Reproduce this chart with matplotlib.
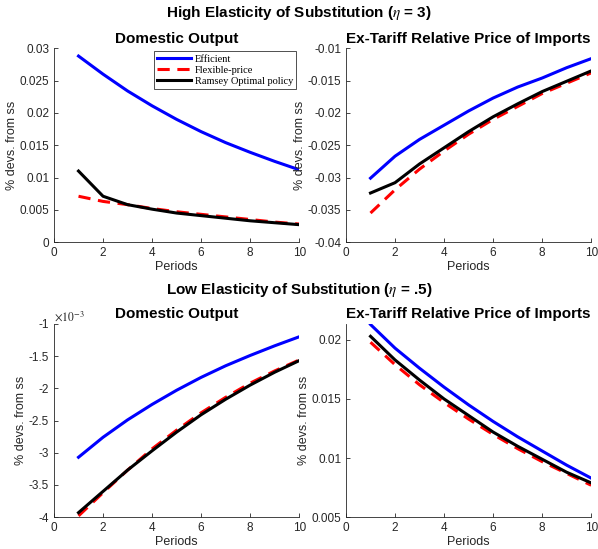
import matplotlib
matplotlib.use("Agg")
import matplotlib.pyplot as plt
from matplotlib.ticker import FuncFormatter, MultipleLocator

# ---------------------------------------------------------------------------
# Data
# ---------------------------------------------------------------------------
periods = list(range(1, 11))

# High elasticity (eta = 3) -- domestic output
hi_out_eff = [0.0288, 0.0260, 0.0234, 0.0211, 0.0190, 0.0171, 0.0154, 0.0139, 0.0125, 0.0112]
hi_out_flex = [0.0071, 0.0063, 0.0058, 0.0052, 0.0047, 0.0043, 0.0039, 0.0035, 0.0031, 0.0028]
hi_out_ram = [0.0110, 0.0071, 0.0058, 0.0051, 0.0045, 0.0041, 0.0037, 0.0033, 0.0030, 0.0027]

# High elasticity (eta = 3) -- ex-tariff relative price of imports
hi_px_eff = [-0.0301, -0.0267, -0.0241, -0.0219, -0.0197, -0.0177, -0.0160, -0.0146, -0.0130, -0.0116]
hi_px_flex = [-0.0355, -0.0319, -0.0287, -0.0259, -0.0233, -0.0210, -0.0190, -0.0170, -0.0154, -0.0138]
hi_px_ram = [-0.0324, -0.0308, -0.0279, -0.0254, -0.0229, -0.0206, -0.0186, -0.0167, -0.0151, -0.0135]

# Low elasticity (eta = .5) -- domestic output, in units of 1e-3
lo_out_eff = [-3.07, -2.76, -2.49, -2.25, -2.03, -1.83, -1.65, -1.49, -1.34, -1.20]
lo_out_flex = [-3.98, -3.62, -3.27, -2.94, -2.65, -2.38, -2.14, -1.92, -1.73, -1.56]
lo_out_ram = [-3.93, -3.60, -3.27, -2.97, -2.68, -2.41, -2.17, -1.95, -1.75, -1.57]

# Low elasticity (eta = .5) -- ex-tariff relative price of imports
lo_px_eff = [0.0213, 0.0193, 0.0176, 0.0160, 0.0145, 0.0131, 0.0118, 0.0106, 0.0094, 0.0083]
lo_px_flex = [0.0198, 0.0179, 0.0162, 0.0147, 0.0133, 0.0120, 0.0108, 0.0097, 0.0087, 0.0077]
lo_px_ram = [0.0203, 0.0183, 0.0166, 0.0150, 0.0136, 0.0122, 0.0110, 0.0099, 0.0088, 0.0079]

labels = ["Efficient", "Flexible-price", "Ramsey Optimal policy"]

AX_COL = "#262626"
plt.rcParams["font.family"] = ["Liberation Sans", "DejaVu Sans"]
plt.rcParams["mathtext.fontset"] = "stix"


def style_axis(ax, ylim, ystep):
    ax.set_xlim(0, 10)
    ax.set_ylim(*ylim)
    ax.xaxis.set_major_locator(MultipleLocator(2))
    ax.yaxis.set_major_locator(MultipleLocator(ystep))
    ax.yaxis.set_major_formatter(FuncFormatter(lambda v, p: f"{round(v, 6):g}"))
    for s in ("top", "right"):
        ax.spines[s].set_visible(False)
    for s in ("left", "bottom"):
        ax.spines[s].set_color(AX_COL)
        ax.spines[s].set_linewidth(0.6)
    ax.tick_params(direction="in", length=3, width=0.6, colors=AX_COL,
                   labelsize=8.5, labelcolor=AX_COL)
    ax.set_xlabel("Periods", fontsize=9, color=AX_COL, labelpad=1.5)
    ax.set_ylabel("% devs. from ss", fontsize=9, color=AX_COL, labelpad=1)


def draw(ax, eff, flex, ram):
    l1, = ax.plot(periods, eff, color="blue", lw=2.2)
    l2, = ax.plot(periods, flex, color="red", lw=2.2, ls=(0, (4, 2.5)))
    l3, = ax.plot(periods, ram, color="black", lw=2.2)
    return [l1, l2, l3]


fig = plt.figure(figsize=(5.98, 5.49), dpi=100)
W, H = 0.41, 0.353
ax1 = fig.add_axes([0.0903, 0.559, W, H])
ax2 = fig.add_axes([0.5786, 0.559, W, H])
ax3 = fig.add_axes([0.0903, 0.058, W, 0.352])
ax4 = fig.add_axes([0.5786, 0.058, W, 0.352])

lines = draw(ax1, hi_out_eff, hi_out_flex, hi_out_ram)
style_axis(ax1, (0, 0.03), 0.005)
ax1.set_title("Domestic Output", fontsize=11, fontweight="bold", pad=4)
leg = ax1.legend(lines, labels, loc="upper right", bbox_to_anchor=(1.0, 1.0),
                 prop={"family": "Liberation Serif", "size": 7.5},
                 frameon=True, fancybox=False, edgecolor="black",
                 handlelength=3.3, handletextpad=0.3, borderpad=0.3,
                 labelspacing=0.15, borderaxespad=0.3)
leg.get_frame().set_linewidth(0.6)

draw(ax2, hi_px_eff, hi_px_flex, hi_px_ram)
style_axis(ax2, (-0.04, -0.01), 0.005)
ax2.set_title("Ex-Tariff Relative Price of Imports", fontsize=11, fontweight="bold", pad=4)

draw(ax3, lo_out_eff, lo_out_flex, lo_out_ram)
style_axis(ax3, (-4, -1), 0.5)
ax3.set_title("Domestic Output", fontsize=11, fontweight="bold", pad=4)
ax3.text(0.0, 1.0, r"$\times10^{-3}$", transform=ax3.transAxes, fontsize=8.5,
         color=AX_COL, ha="left", va="bottom")

draw(ax4, lo_px_eff, lo_px_flex, lo_px_ram)
style_axis(ax4, (0.005, 0.02135), 0.005)
ax4.set_title("Ex-Tariff Relative Price of Imports", fontsize=11, fontweight="bold", pad=4)

fig.text(0.5, 0.976, r"High Elasticity of Substitution ($\eta$ = 3)", ha="center",
         va="center", fontsize=11, fontweight="bold")
fig.text(0.5, 0.472, r"Low Elasticity of Substitution ($\eta$ = .5)", ha="center",
         va="center", fontsize=11, fontweight="bold")

fig.savefig("out.png", dpi=100)
